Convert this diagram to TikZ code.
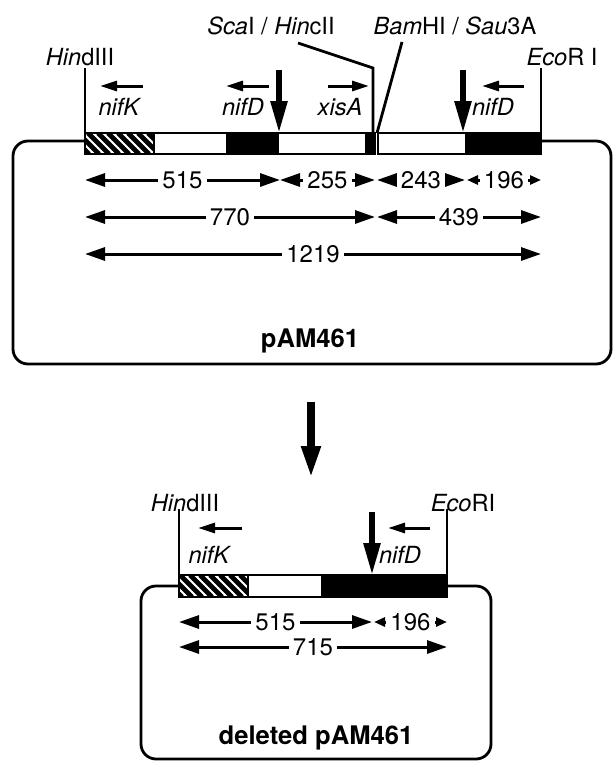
\documentclass[tikz,border=0pt]{standalone}
\usepackage{fontspec}
\setmainfont{TeX Gyre Heros}
\usetikzlibrary{arrows.meta}
\tikzstyle{mapbox} = [
    line width=1.4pt,
    rounded corners=7.5pt
]
\tikzstyle{barline} = [line width=1.4pt]
\tikzstyle{siteline} = [line width=1.4pt]
\tikzstyle{dimline} = [
    line width=1.5pt,
    {Triangle[length=10pt,width=6.5pt]}-{Triangle[length=10pt,width=6.5pt]}
]
\tikzstyle{dimshort} = [
    line width=1.5pt,
    {Triangle[length=5.5pt,width=4.5pt]}-{Triangle[length=5.5pt,width=4.5pt]}
]
\tikzstyle{dimlabel} = [
    fill=white,
    inner sep=2pt,
    font=\fontsize{12}{14}\selectfont
]
\tikzstyle{sitelabel} = [
    inner sep=0pt,
    font=\fontsize{11.8}{14}\selectfont
]
\tikzstyle{genearrow} = [line width=1.5pt, -{Triangle[length=8.5pt,width=5pt]}]
\tikzstyle{cutarrow} = [line width=2.8pt, -{Triangle[length=16pt,width=8pt]}]
\tikzstyle{bigarrow} = [line width=3.8pt, -{Triangle[length=16pt,width=9pt]}]
\tikzstyle{plasmid} = [font=\bfseries\fontsize{12.8}{15}\selectfont]

\begin{document}
\begin{tikzpicture}[x=0.5pt, y=-0.5pt]
\useasboundingbox (0,0) rectangle (614,761);

% pAM461
\coordinate (hindA) at (85,68);
\coordinate (hindAbar) at (85,133);
\coordinate (scaA) at (279,70);
\coordinate (scaAbar) at (279,133);
\coordinate (hincA) at (298,43);
\coordinate (hincAbend) at (373,68);
\coordinate (hincAbar) at (373,133);
\coordinate (bamA) at (402,42);
\coordinate (bamAbar) at (377,133);
\coordinate (cutA) at (463,70);
\coordinate (cutAbar) at (463,133);
\coordinate (ecoA) at (541,68);
\coordinate (ecoAbar) at (541,133);

\draw [mapbox] (85,141) -- (13,141) -- (13,364) -- (611,364) -- (611,141) -- (541,141);

\fill [white] (85,133) rectangle (375,154);
\fill [white] (378,133) rectangle (541,154);
\begin{scope}
\clip (85,133) rectangle (154,154);
\foreach \x in {68,78,...,158}
    \draw [line width=2.4pt] (\x,133) -- (\x+21,154);
\end{scope}
\fill (226,133) rectangle (279,154);
\fill (365,133) rectangle (375,154);
\fill (465,133) rectangle (541,154);
\draw [barline] (85,133) rectangle (375,154);
\draw [barline] (378,133) rectangle (541,154);
\draw [barline] (154,133) -- (154,154);

\node (hindAlabel) [sitelabel] at (80,57) {\textit{Hin}dIII};
\node (scaAlabel) [sitelabel] at (271,26) {\textit{Sca}I / \textit{Hin}cII};
\node (bamAlabel) [sitelabel] at (455,26) {\textit{Bam}HI / \textit{Sau}3A};
\node (ecoAlabel) [sitelabel] at (562,57) {\textit{Eco}R I};

\draw [siteline] (hindA) -- (hindAbar);
\draw [siteline] (hincA) -- (hincAbend) -- (hincAbar);
\draw [siteline] (bamA) -- (bamAbar);
\draw [siteline] (ecoA) -- (ecoAbar);
\draw [cutarrow] (scaA) -- (scaAbar);
\draw [cutarrow] (cutA) -- (cutAbar);

\coordinate (nifKAr) at (143,86);
\coordinate (nifKAl) at (100,86);
\coordinate (nifDAr) at (269,86);
\coordinate (nifDAl) at (226,86);
\coordinate (xisAl) at (328,86);
\coordinate (xisAr) at (369,86);
\coordinate (nifDBr) at (524,86);
\coordinate (nifDBl) at (482,86);
\draw [genearrow] (nifKAr) -- (nifKAl);
\draw [genearrow] (nifDAr) -- (nifDAl);
\draw [genearrow] (xisAl) -- (xisAr);
\draw [genearrow] (nifDBr) -- (nifDBl);

\node (nifKAlabel) [sitelabel] at (120,107) {\textit{nifK}};
\node (nifDAlabel) [sitelabel] at (243,107) {\textit{nifD}};
\node (xisAlabel) [sitelabel] at (340,107) {\textit{xisA}};
\node (nifDBlabel) [sitelabel] at (493,107) {\textit{nifD}};

\draw [dimline] (85,180) -- (280,180) node [dimlabel, midway] (d515) {515};
\draw [dimline] (280,180) -- (375,180) node [dimlabel, midway] (d255) {255};
\draw [dimline] (377,180) -- (465,180) node [dimlabel, midway] (d243) {243};
\draw [dimshort] (467,180) -- (541,180) node [dimlabel, midway] (d196) {196};
\draw [dimline] (85,217) -- (375,217) node [dimlabel, midway] (d770) {770};
\draw [dimline] (377,217) -- (541,217) node [dimlabel, midway] (d439) {439};
\draw [dimline] (85,254) -- (541,254) node [dimlabel, midway] (d1219) {1219};

\node (pAM) [plasmid] at (310,341) {pAM461};

\coordinate (arrowtop) at (311,402);
\coordinate (arrowtip) at (311,478);
\draw [bigarrow] (arrowtop) -- (arrowtip);

% deleted pAM461
\coordinate (hindB) at (179,509);
\coordinate (hindBbar) at (179,575);
\coordinate (cutB) at (372,512);
\coordinate (cutBbar) at (372,575);
\coordinate (ecoB) at (447,509);
\coordinate (ecoBbar) at (447,575);

\draw [mapbox] (179,586) -- (141,586) -- (141,759) -- (491,759) -- (491,586) -- (447,586);

\fill [white] (179,575) rectangle (447,597);
\begin{scope}
\clip (179,575) rectangle (248,597);
\foreach \x in {160,170,...,250}
    \draw [line width=2.4pt] (\x,575) -- (\x+22,597);
\end{scope}
\fill (321,575) rectangle (447,597);
\draw [barline] (179,575) rectangle (447,597);
\draw [barline] (248,575) -- (248,597);

\node (hindBlabel) [sitelabel] at (185,503) {\textit{Hin}dIII};
\node (ecoBlabel) [sitelabel] at (463,503) {\textit{Eco}RI};

\draw [siteline] (hindB) -- (hindBbar);
\draw [siteline] (ecoB) -- (ecoBbar);
\draw [cutarrow] (cutB) -- (cutBbar);

\coordinate (nifKBr) at (242,528);
\coordinate (nifKBl) at (198,528);
\coordinate (nifDCr) at (430,528);
\coordinate (nifDCl) at (388,528);
\draw [genearrow] (nifKBr) -- (nifKBl);
\draw [genearrow] (nifDCr) -- (nifDCl);

\node (nifKBlabel) [sitelabel] at (210,555) {\textit{nifK}};
\node (nifDClabel) [sitelabel] at (400,555) {\textit{nifD}};

\draw [dimline] (179,622) -- (372,622) node [dimlabel, midway] (e515) {515};
\draw [dimshort] (374,622) -- (447,622) node [dimlabel, midway] (e196) {196};
\draw [dimline] (179,647) -- (447,647) node [dimlabel, midway] (e715) {715};

\node (delpAM) [plasmid] at (316,738) {deleted pAM461};

\end{tikzpicture}
\end{document}
